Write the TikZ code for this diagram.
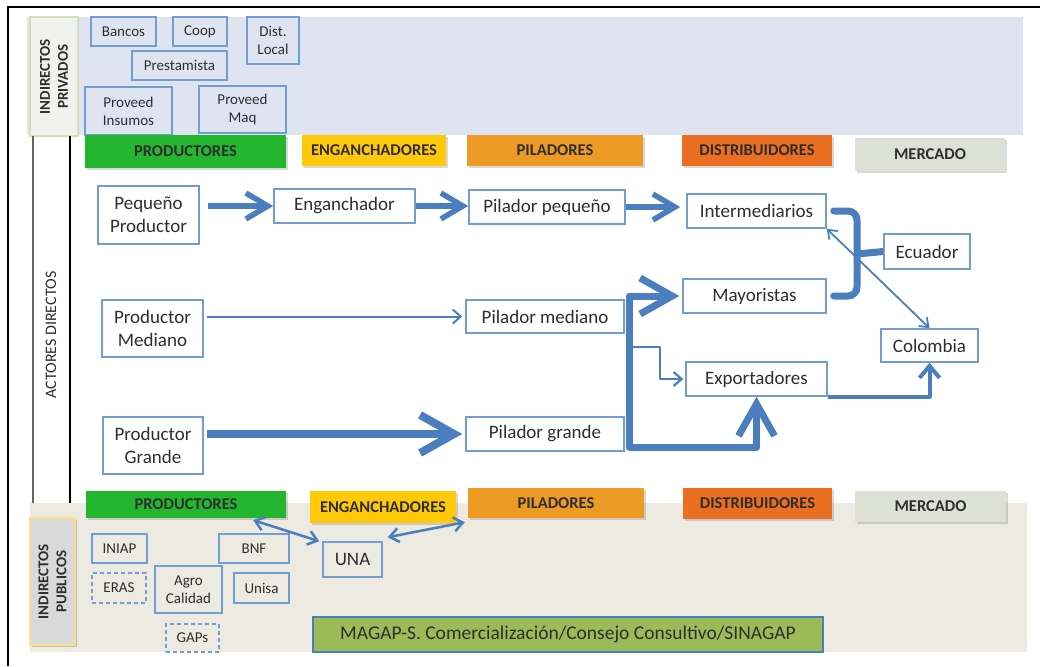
\documentclass[tikz,border=0pt]{standalone}
\usepackage{fontspec}
\setmainfont{Carlito}
\usetikzlibrary{arrows.meta,shadows}

\definecolor{PrivFill}{HTML}{DEE5F0}
\definecolor{PubFill}{HTML}{ECEAE1}
\definecolor{BoxLine}{HTML}{719CD4}
\definecolor{Flow}{HTML}{4A7EBF}
\definecolor{Prod}{HTML}{25B630}
\definecolor{Eng}{HTML}{FFC90A}
\definecolor{Pil}{HTML}{EE9B26}
\definecolor{Dist}{HTML}{EB6F22}
\definecolor{Merc}{HTML}{DDE0D4}
\definecolor{Magap}{HTML}{9BBB59}
\definecolor{LabelGray}{HTML}{D9D9D9}
\definecolor{LabelPale}{HTML}{F1F1EF}
\definecolor{LabelGreen}{HTML}{D3DFB8}
\definecolor{LabelYellow}{HTML}{FFE08A}
\definecolor{Ink}{HTML}{2E2E2E}

\begin{document}
\begin{tikzpicture}[x=1pt, y=-1pt,
  actor/.style={draw=BoxLine, line width=1.5, fill=white, text=Ink, align=center, inner sep=0pt, font=\fontsize{19}{23}\selectfont},
  sidebox/.style={draw=BoxLine, line width=1.5, text=Ink, align=center, inner sep=0pt, font=\fontsize{15}{18}\selectfont},
  header/.style={inner sep=0pt, text=Ink, font=\bfseries\fontsize{16.5}{20}\selectfont, drop shadow={shadow xshift=1.5pt, shadow yshift=-1.5pt, opacity=0.3}},
  sidelabel/.style={rotate=90, inner sep=0pt, align=center, text=Ink, font=\bfseries\fontsize{15}{18}\selectfont},
  flow/.style={draw=Flow, line join=round}]

 \useasboundingbox (0,0) rectangle (1040,666);

 %%%%%%%%%% Cadre %%%%%%%%%%
 \draw [line width=2.5] (8,666) -- (8,7) -- (1040,7);

 %%%%%%%%%% Indirectos privados %%%%%%%%%%
 \fill [color=PrivFill] (27,17) rectangle (1023,135);
 \node [sidelabel, fill=LabelPale, draw=LabelGreen, line width=1.2, minimum width=119pt, minimum height=48pt] (privlabel) at (54,76.5) {INDIRECTOS\\PRIVADOS};

 \node [sidebox, minimum width=65pt, minimum height=29pt] (bancos) at (123.5,31.5) {Bancos};
 \node [sidebox, minimum width=54pt, minimum height=29pt] (coop) at (200,31.5) {Coop};
 \node [sidebox, minimum width=52pt, minimum height=47pt] (distlocal) at (273,40.5) {Dist.\\Local};
 \node [sidebox, minimum width=95pt, minimum height=29pt] (prestamista) at (179.5,65.5) {Prestamista};
 \node [sidebox, minimum width=87pt, minimum height=48pt] (insumos) at (128.5,111) {Proveed\\Insumos};
 \node [sidebox, minimum width=87pt, minimum height=47pt] (maq) at (242.5,109.5) {Proveed\\Maq};

 %%%%%%%%%% Indirectos publicos %%%%%%%%%%
 \fill [color=PubFill] (30,503) rectangle (1027,652);
 \node [sidelabel, fill=LabelGray, draw=LabelYellow, line width=1.5, minimum width=127pt, minimum height=45pt, drop shadow={shadow xshift=1.5pt, shadow yshift=-1.5pt, opacity=0.4}] (publabel) at (52.5,581.5) {INDIRECTOS\\PUBLICOS};

 \node [sidebox, minimum width=55pt, minimum height=29pt] (iniap) at (119.5,548.5) {INIAP};
 \node [sidebox, dash pattern=on 4pt off 3pt, minimum width=54pt, minimum height=30pt] (eras) at (119,588) {ERAS};
 \node [sidebox, minimum width=67pt, minimum height=47pt] (agro) at (188.5,589.5) {Agro\\Calidad};
 \node [sidebox, minimum width=70pt, minimum height=29pt] (bnf) at (254,548.5) {BNF};
 \node [sidebox, minimum width=55pt, minimum height=30pt] (unisa) at (261.5,588) {Unisa};
 \node [sidebox, dash pattern=on 4pt off 3pt, minimum width=53pt, minimum height=28pt] (gaps) at (192.5,638) {GAPs};
 \node [sidebox, font=\fontsize{19}{23}\selectfont, minimum width=59pt, minimum height=35pt] (una) at (352.5,559.5) {UNA};
 \node [sidebox, draw=Flow, line width=1.2, fill=Magap, font=\fontsize{19.5}{22}\selectfont, minimum width=510pt, minimum height=35pt] (magap) at (568,634.5) {MAGAP-S. Comercialización/Consejo Consultivo/SINAGAP};

 %%%%%%%%%% Actores directos %%%%%%%%%%
 \draw [line width=1.8, color=black!60] (33,136) -- (33,503);
 \draw [line width=1.5] (70,136) -- (70,503);
 \node [rotate=90, text=Ink, font=\fontsize{16}{19}\selectfont] (actores) at (51,335) {ACTORES DIRECTOS};

 %%%%%%%%%% Eslabones %%%%%%%%%%
 \node [header, fill=Prod, minimum width=201pt, minimum height=33pt] (prodT) at (185.5,151.5) {PRODUCTORES};
 \node [header, fill=Eng, minimum width=144pt, minimum height=31pt] (engT) at (374,150.5) {ENGANCHADORES};
 \node [header, fill=Pil, minimum width=176pt, minimum height=31pt] (pilT) at (555,150.5) {PILADORES};
 \node [header, fill=Dist, minimum width=150pt, minimum height=31pt] (distT) at (757,150.5) {DISTRIBUIDORES};
 \node [header, fill=Merc, minimum width=150pt, minimum height=33pt] (mercT) at (930,154.5) {MERCADO};

 \node [header, fill=Prod, minimum width=200pt, minimum height=27pt] (prodB) at (186,504.5) {PRODUCTORES};
 \node [header, fill=Eng, minimum width=146pt, minimum height=32pt] (engB) at (383,507) {ENGANCHADORES};
 \node [header, fill=Pil, minimum width=176pt, minimum height=30pt] (pilB) at (556,503) {PILADORES};
 \node [header, fill=Dist, minimum width=149pt, minimum height=31pt] (distB) at (757.5,503.5) {DISTRIBUIDORES};
 \node [header, fill=Merc, minimum width=151pt, minimum height=31pt] (mercB) at (930.5,506.5) {MERCADO};

 %%%%%%%%%% Actores %%%%%%%%%%
 \node [actor, minimum width=101pt, minimum height=58pt] (pequeno) at (148.5,215) {Pequeño\\Productor};
 \node [actor, minimum width=141pt, minimum height=34pt] (enganchador) at (344.5,206) {Enganchador};
 \node [actor, minimum width=156pt, minimum height=34pt] (pilpeq) at (547,207) {Pilador pequeño};
 \node [actor, minimum width=139pt, minimum height=34pt] (intermed) at (756.5,211) {Intermediarios};
 \node [actor, minimum width=86pt, minimum height=35pt] (ecuador) at (927,251.5) {Ecuador};
 \node [actor, minimum width=143pt, minimum height=34pt] (mayoristas) at (754.5,296) {Mayoristas};
 \node [actor, minimum width=97pt, minimum height=33pt] (colombia) at (929.5,345.5) {Colombia};
 \node [actor, minimum width=141pt, minimum height=34pt] (exportadores) at (756.5,379) {Exportadores};
 \node [actor, minimum width=101pt, minimum height=57pt] (mediano) at (152.5,328.5) {Productor\\Mediano};
 \node [actor, minimum width=158pt, minimum height=33pt] (pilmed) at (545,316.5) {Pilador mediano};
 \node [actor, minimum width=100pt, minimum height=57pt] (grande) at (153,445.5) {Productor\\Grande};
 \node [actor, minimum width=158pt, minimum height=34pt] (pilgra) at (545,434) {Pilador grande};

 %%%%%%%%%% Puntos de reparto %%%%%%%%%%
 \coordinate (vbot) at (629,447);
 \coordinate (vmid) at (629,347);
 \coordinate (bend) at (660,347);
 \coordinate (brk) at (857,254);

 %%%%%%%%%% Flujos %%%%%%%%%%
 \draw [flow, line width=5.5, -{Straight Barb[length=22pt,width=26pt]}, shorten <=8pt] (pequeno.east |- enganchador.west) -- (enganchador.west);
 \draw [flow, line width=5.5, -{Straight Barb[length=22pt,width=26pt]}] (enganchador.east) -- (enganchador.east -| pilpeq.west);
 \draw [flow, line width=5.5, -{Straight Barb[length=22pt,width=26pt]}, shorten >=6pt] (pilpeq.east) -- (pilpeq.east -| intermed.west);
 \draw [flow, line width=2, -{Straight Barb[length=8pt,width=14pt]}, shorten <=3pt, shorten >=3pt] (mediano.east |- pilmed.west) -- (pilmed.west);
 \draw [flow, line width=8, -{Straight Barb[length=34pt,width=38pt]}, shorten <=3pt, shorten >=3pt] (grande.east |- pilgra.west) -- (pilgra.west);

 \draw [flow, line width=7, {Straight Barb[length=32pt,width=36pt]}-{Straight Barb[length=32pt,width=36pt]}, shorten <=3pt] (mayoristas.west) -| (vbot) -| (exportadores.south);
 \draw [flow, line width=2.2, -{Straight Barb[length=8pt,width=14pt]}, shorten >=2pt] (vmid) -- (bend) |- (exportadores.west);
 \draw [flow, line width=4, -{Straight Barb[length=12pt,width=20pt]}] (exportadores.south east) -| (colombia.south);

 \draw [flow, line width=7, rounded corners=9pt, line cap=round] ([xshift=7pt]intermed.east) -| (brk) |- ([xshift=7pt]mayoristas.east);
 \draw [flow, line width=7] (brk) -- (ecuador.west);
 \draw [flow, line width=1.8, {Straight Barb[length=8pt,width=12pt]}-{Straight Barb[length=8pt,width=12pt]}] (intermed.south east) -- (colombia.north);

 \draw [flow, line width=2.5, {Straight Barb[length=9pt,width=14pt]}-{Straight Barb[length=9pt,width=14pt]}] ([xshift=-33pt,yshift=-2pt]prodB.south east) -- ([xshift=-3pt]una.north west);
 \draw [flow, line width=2.5, {Straight Barb[length=9pt,width=14pt]}-{Straight Barb[length=9pt,width=14pt]}] ([xshift=5pt,yshift=4pt]una.north east) -- ([xshift=-3pt,yshift=-4pt]pilB.south west);

\end{tikzpicture}
\end{document}
